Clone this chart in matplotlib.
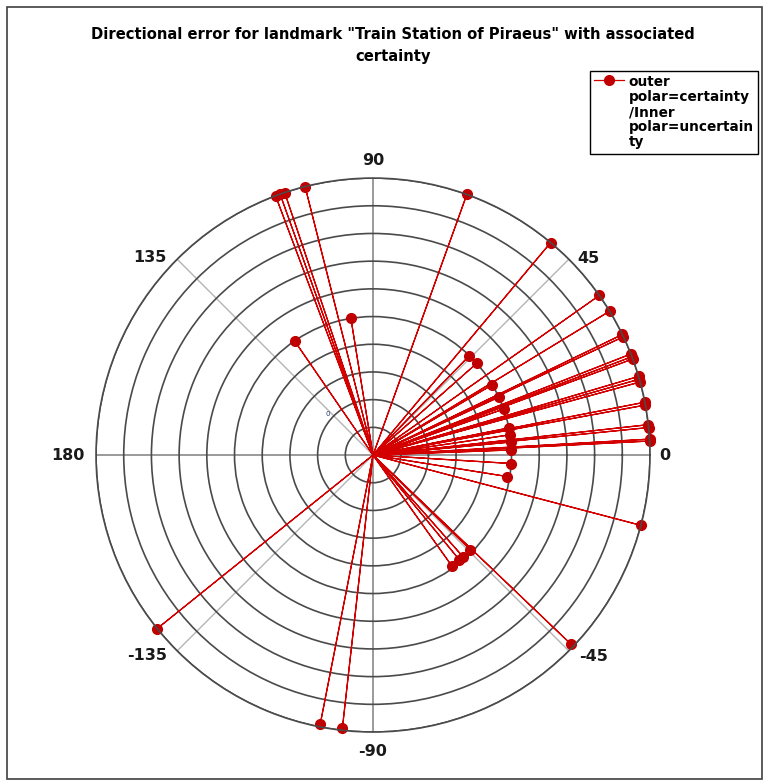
import numpy as np
import matplotlib.pyplot as plt
from matplotlib.patches import Rectangle
from matplotlib.offsetbox import HPacker

# direction of each observation (degrees) and its certainty
angles = [108.6, 109.6, 110.6, 104.2, 70.2, 99.2, 124.5,
          50.1, 35.2, 31.3, 25.8, 25.3, 21.4, 20.8, 20.3,
          16.5, 15.9, 15.3, 11.0, 10.4, 6.3, 5.7, 3.3, 2.9,
          45.9, 41.5, 30.5, 24.7, 19.4, 11.3, 8.4, 5.4, 2.1,
          -3.5, -9.1, -14.7, -43.7, -54.6, -50.5, -48.5, -44.2,
          -141.2, -101.1, -96.4]
certainty = [1.0, 1.0, 1.0, 1.0, 1.0, 0.50, 0.50,
             1.0, 1.0, 1.0, 1.0, 1.0, 1.0, 1.0, 1.0,
             1.0, 1.0, 1.0, 1.0, 1.0, 1.0, 1.0, 1.0, 1.0,
             0.50, 0.50, 0.50, 0.50, 0.50, 0.50, 0.50, 0.50, 0.50,
             0.50, 0.49, 1.0, 0.99, 0.49, 0.49, 0.49, 0.49,
             1.0, 0.99, 0.99]

tick_angles = [0, 45, 90, 135, 180, 225, 270, 315]
tick_labels = ['0', '45', '90', '135', '180', '-135', '-90', '-45']
rings = [0.1, 0.2, 0.3, 0.4, 0.5, 0.6, 0.7, 0.8, 0.9, 1.0]

# where the angle labels sit (theta in degrees, radius)
label_pos = [(0, 1.054), (42.5, 1.053), (90, 1.065), (138.5, 1.074),
             (180, 1.10), (221.6, 1.092), (270, 1.072), (317.6, 1.076)]

# each spoke goes centre -> point -> centre
th, rr, marks = [], [], []
for a, c in zip(angles, certainty):
    t = np.deg2rad(a)
    th += [t, t, t]
    rr += [0, c, 0]
    marks.append(len(rr) - 2)

fig = plt.figure(figsize=(7.65, 7.81), dpi=100)
fig.patches.append(Rectangle((7 / 765, 2 / 781), 755 / 765, 772 / 781,
                             transform=fig.transFigure, fill=False,
                             edgecolor='#404040', lw=1.2))

ax = fig.add_axes([0.1255, 0.0627, 0.7242, 0.7093], polar=True)
ax.plot(th, rr, color='#D40000', lw=0.9, marker='o', markersize=7,
        markerfacecolor='#C00000', markeredgecolor='#C00000',
        markevery=marks, clip_on=False,
        label='outer\npolar=certainty\n/Inner\npolar=uncertain\nty')

ax.set_ylim(0, 1)
ax.set_rgrids(rings, labels=[''] * len(rings))
ax.set_thetagrids(tick_angles, [''] * len(tick_angles))
ax.yaxis.grid(True, color='#4a4a4a', lw=1.2)
for i, gl in enumerate(ax.xaxis.get_gridlines()):
    if tick_angles[i] % 90 == 0:
        gl.set_color('#9a9a9a')
        gl.set_linewidth(1.4)
    else:
        gl.set_color('#b4b4b4')
        gl.set_linewidth(1.0)
    gl.set_linestyle('-')
ax.spines['polar'].set_color('#4a4a4a')
ax.spines['polar'].set_linewidth(1.2)
ax.set_axisbelow(True)

for lab, (a, r) in zip(tick_labels, label_pos):
    ax.text(np.deg2rad(a), r, lab, ha='center', va='center',
            fontsize=11.5, fontweight='bold', color='#1a1a1a')
ax.text(np.deg2rad(138), 0.22, '0', fontsize=5, color='#2a3f7a',
        ha='center', va='center')

fig.text(0.514, 1 - 45.5 / 781,
         'Directional error for landmark "Train Station of Piraeus" with associated\ncertainty',
         ha='center', va='center', fontsize=10.6, fontweight='bold', linespacing=1.6)

leg = fig.legend(loc='upper left', bbox_to_anchor=(590 / 765, 1 - 71 / 781),
                 fancybox=False, edgecolor='black', framealpha=1,
                 fontsize=9.8, handlelength=2.2, handletextpad=0.35,
                 borderpad=0.3, borderaxespad=0)
leg.get_frame().set_linewidth(1.0)
for t in leg.get_texts():
    t.set_fontweight('bold')
    t.set_linespacing(1.1)
# keep the line sample level with the first line of the label
for box in leg.findobj(HPacker):
    box.align = 'top'

fig.savefig('out.png', dpi=100)
